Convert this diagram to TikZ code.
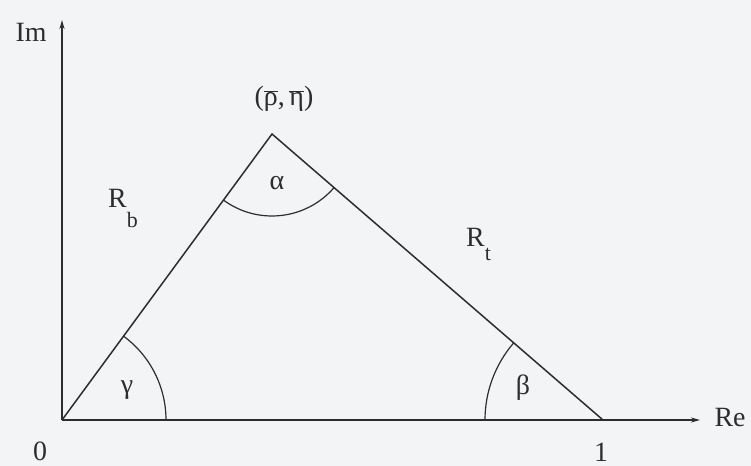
\documentclass[tikz,border=0pt]{standalone}
\usepackage{fontspec}
\setmainfont{Liberation Serif}
\usetikzlibrary{arrows.meta}
\definecolor{bg}{RGB}{243,244,246}
\definecolor{ink}{RGB}{45,45,45}
\begin{document}
\begin{tikzpicture}[x=1bp,y=-1bp,
  axis/.style={draw=ink,line width=1.5bp,-{Stealth[length=9bp,width=5bp]}},
  side/.style={draw=ink,line width=1.5bp},
  arcline/.style={draw=ink,line width=1.2bp},
  lbl/.style={text=ink,inner sep=0pt,font=\fontsize{28}{32}\selectfont}]
\fill[bg] (0,0) rectangle (751,466);
\useasboundingbox (0,0) rectangle (751,466);
\coordinate (O) at (62,420);
\coordinate (A) at (272,134);
\coordinate (B) at (603,420);
\coordinate (ImTip) at (62,20);
\coordinate (ReTip) at (700,420);
\draw[axis] (O) -- (ImTip);
\draw[axis] (O) -- (ReTip);
\draw[side] (O) -- (A) -- (B);
% angle arcs
\draw[arcline] (A) ++(126.3:82) arc[start angle=126.3,end angle=40.8,radius=82];
\draw[arcline] (O) ++(-53.7:104) arc[start angle=-53.7,end angle=0,radius=104];
\draw[arcline] (B) ++(180:118) arc[start angle=180,end angle=220.8,radius=118];
\node[lbl] (Im) at (31,32) {Im};
\node[lbl] (Re) at (730,418) {Re};
\node[lbl] (zero) at (40,451) {0};
\node[lbl] (one) at (601,452) {1};
\node[lbl] (apex) at (284,99) {($\overline{\mbox{ρ}}$,\,$\overline{\mbox{η}}$)};
\node[lbl] (al) at (277,183) {α};
\node[lbl] (ga) at (127,390) {γ};
\node[lbl] (be) at (523,388) {β};
\node[lbl,anchor=base west] (Rb) at (108,208) {R\raisebox{-20bp}{\fontsize{22}{22}\selectfont b}};
\node[lbl,anchor=base west] (Rt) at (466,247) {R\raisebox{-14bp}{\fontsize{22}{22}\selectfont t}};
\end{tikzpicture}
\end{document}
